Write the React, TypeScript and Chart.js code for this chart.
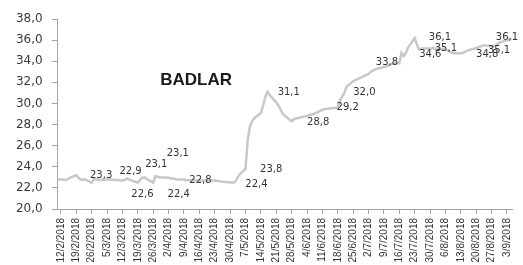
import React, { useEffect, useRef } from "react";
import { Chart, registerables } from "chart.js";

Chart.register(...registerables);

// Weekly tick labels (day offsets 0, 7, 14, ... from 12/2/2018)
const tickLabels = [
  "12/2/2018", "19/2/2018", "26/2/2018", "5/3/2018", "12/3/2018", "19/3/2018",
  "26/3/2018", "2/4/2018", "9/4/2018", "16/4/2018", "23/4/2018", "30/4/2018",
  "7/5/2018", "14/5/2018", "21/5/2018", "28/5/2018", "4/6/2018", "11/6/2018",
  "18/6/2018", "25/6/2018", "2/7/2018", "9/7/2018", "16/7/2018", "23/7/2018",
  "30/7/2018", "6/8/2018", "13/8/2018", "20/8/2018", "27/8/2018", "3/9/2018",
];
const tickStepDays = 7;

// Day offsets from 12/2/2018 (business days) and BADLAR rate (%)
const days = [
  -3, 0, 1, 2, 3, 4, 7, 8, 9, 10, 11, 14, 15, 16, 17, 18, 21, 22, 23, 24, 25,
  28, 29, 30, 31, 32, 35, 36, 37, 38, 39, 42, 43, 44, 45, 49, 50, 51, 52, 53,
  56, 57, 63, 70, 73, 77, 78, 79, 80, 81, 84, 85, 86, 87, 88, 91, 92, 93, 94,
  95, 98, 99, 100, 101, 105, 106, 107, 108, 109, 112, 113, 114, 115, 116, 119,
  120, 121, 122, 123, 126, 127, 129, 130, 133, 134, 135, 136, 137, 140, 141,
  142, 143, 144, 148, 149, 150, 151, 154, 155, 156, 157, 158, 161, 162, 163,
  164, 165, 168, 169, 170, 171, 172, 175, 176, 177, 178, 179, 182, 183, 184,
  185, 186, 190, 191, 192, 193, 196, 197, 198, 199, 200, 203, 204, 205,
];
const badlar = [
  22.8, 22.8, 22.8, 22.75, 22.8, 22.95, 23.2, 22.95, 22.8, 22.8, 22.8, 22.5,
  22.85, 22.8, 22.8, 22.75, 22.8, 22.8, 22.8, 22.75, 22.75, 22.7, 22.75, 22.9,
  22.8, 22.7, 22.5, 22.75, 22.95, 23.0, 22.85, 22.5, 23.1, 23.05, 23.0, 22.95,
  22.9, 22.9, 22.85, 22.8, 22.8, 22.75, 22.7, 22.7, 22.6, 22.5, 22.5, 22.5,
  22.8, 23.2, 23.8, 26.5, 27.8, 28.3, 28.6, 29.1, 29.8, 30.6, 31.1, 30.8,
  30.1, 29.8, 29.4, 29.0, 28.3, 28.5, 28.6, 28.6, 28.7, 28.8, 28.9, 28.95,
  29.0, 29.1, 29.4, 29.45, 29.5, 29.5, 29.55, 29.6, 30.3, 31.0, 31.6, 32.1,
  32.2, 32.3, 32.4, 32.5, 32.8, 33.0, 33.1, 33.2, 33.3, 33.5, 33.6, 33.7,
  33.8, 33.8, 34.8, 34.5, 34.8, 35.3, 36.2, 35.6, 35.1, 35.2, 35.2, 35.2,
  35.25, 35.2, 35.2, 35.2, 35.1, 35.0, 34.9, 34.8, 34.75, 34.75, 34.8, 34.9,
  35.0, 35.07, 35.3, 35.4, 35.5, 35.5, 35.4, 35.45, 35.5, 35.7, 35.8, 36.0,
  36.1, 36.2,
];

// Value labels as shown on the chart, with their anchors in data units
const labelTexts = [
  "23,3", "22,9", "23,1", "22,6", "23,1", "22,4", "22,8", "22,4", "23,8",
  "31,1", "28,8", "29,2", "32,0", "33,8", "36,1", "34,6", "35,1", "34,8",
  "35,1", "36,1",
];
const labelDays = [
  18.3, 31.7, 43.4, 37.1, 53.2, 53.6, 63.5, 89, 95.7, 103.7, 117.1, 130.5,
  138.1, 148.4, 172.5, 168.1, 175.2, 194, 199.4, 203,
];
const labelLevels = [
  23.22, 23.54, 24.27, 21.42, 25.31, 21.42, 22.68, 22.37, 23.79, 31.09, 28.25,
  29.67, 31.0, 33.93, 36.3, 34.6, 35.17, 34.69, 35.07, 36.3,
];

const chartTitle = "BADLAR";
const yMin = 20;
const yMax = 38;
const yStep = 2;

export default function App() {
  const ref = useRef<HTMLCanvasElement | null>(null);

  useEffect(() => {
    if (!ref.current) return;
    const labelsPlugin = {
      id: "valueLabels",
      afterDatasetsDraw(chart: any) {
        const { ctx, scales, chartArea } = chart;
        ctx.save();
        ctx.fillStyle = "#333333";
        ctx.font = '10px "DejaVu Sans"';
        ctx.textAlign = "center";
        ctx.textBaseline = "middle";
        for (let i = 0; i < labelTexts.length; i++) {
          const x = scales.x.getPixelForValue(labelDays[i]);
          const y = scales.y.getPixelForValue(labelLevels[i]);
          ctx.fillText(labelTexts[i], x, y);
        }
        ctx.fillStyle = "#1a1a1a";
        ctx.font = 'bold 17px "Liberation Sans", Arial, sans-serif';
        ctx.fillText(chartTitle, chartArea.left + 138.5, chartArea.top + 61);
        ctx.restore();
      },
    };

    const chart = new Chart(ref.current, {
      type: "line",
      data: {
        datasets: [
          {
            label: chartTitle,
            data: days.map((d, i) => ({ x: d, y: badlar[i] })),
            borderColor: "#c8c8c8",
            borderWidth: 2.5,
            pointRadius: 0,
            tension: 0,
            fill: false,
          },
        ],
      },
      options: {
        animation: false,
        responsive: false,
        devicePixelRatio: 1,
        layout: { padding: { left: 0, top: 19, right: 2.2, bottom: 0 } },
        plugins: { legend: { display: false }, tooltip: { enabled: false }, title: { display: false } },
        scales: {
          x: {
            type: "linear",
            min: -1.5,
            max: 205.5,
            afterBuildTicks: (axis: any) => {
              axis.ticks = tickLabels.map((_, i) => ({ value: i * tickStepDays }));
            },
            afterFit: (scale: any) => {
              scale.height = 56;
            },
            ticks: {
              autoSkip: false,
              minRotation: 90,
              maxRotation: 90,
              padding: 4,
              color: "#333333",
              font: { family: '"Liberation Sans", Arial, sans-serif', size: 10 },
              callback: (value: any) => {
                const v = Number(value);
                return tickLabels[Math.round(v / tickStepDays)];
              },
            },
            grid: { drawOnChartArea: false, drawTicks: true, tickLength: 5, color: "#a6a6a6" },
            border: { display: true, color: "#a6a6a6", width: 1 },
          },
          y: {
            min: yMin,
            max: yMax,
            afterFit: (scale: any) => {
              scale.width = 57.6;
            },
            ticks: {
              stepSize: yStep,
              padding: 9,
              color: "#3a3a3a",
              font: { family: '"DejaVu Sans"', size: 12 },
              callback: (value: any) => Number(value).toFixed(1).replace(".", ","),
            },
            grid: { drawOnChartArea: false, drawTicks: true, tickLength: 6, color: "#a6a6a6" },
            border: { display: true, color: "#a6a6a6", width: 1 },
          },
        },
      },
      plugins: [labelsPlugin],
    });
    return () => chart.destroy();
  }, []);

  return (
    <div style={{ position: "absolute", left: 0, top: 0, width: 523, height: 265, background: "#ffffff" }}>
      <canvas ref={ref} width={523} height={265} style={{ display: "block" }} />
    </div>
  );
}
